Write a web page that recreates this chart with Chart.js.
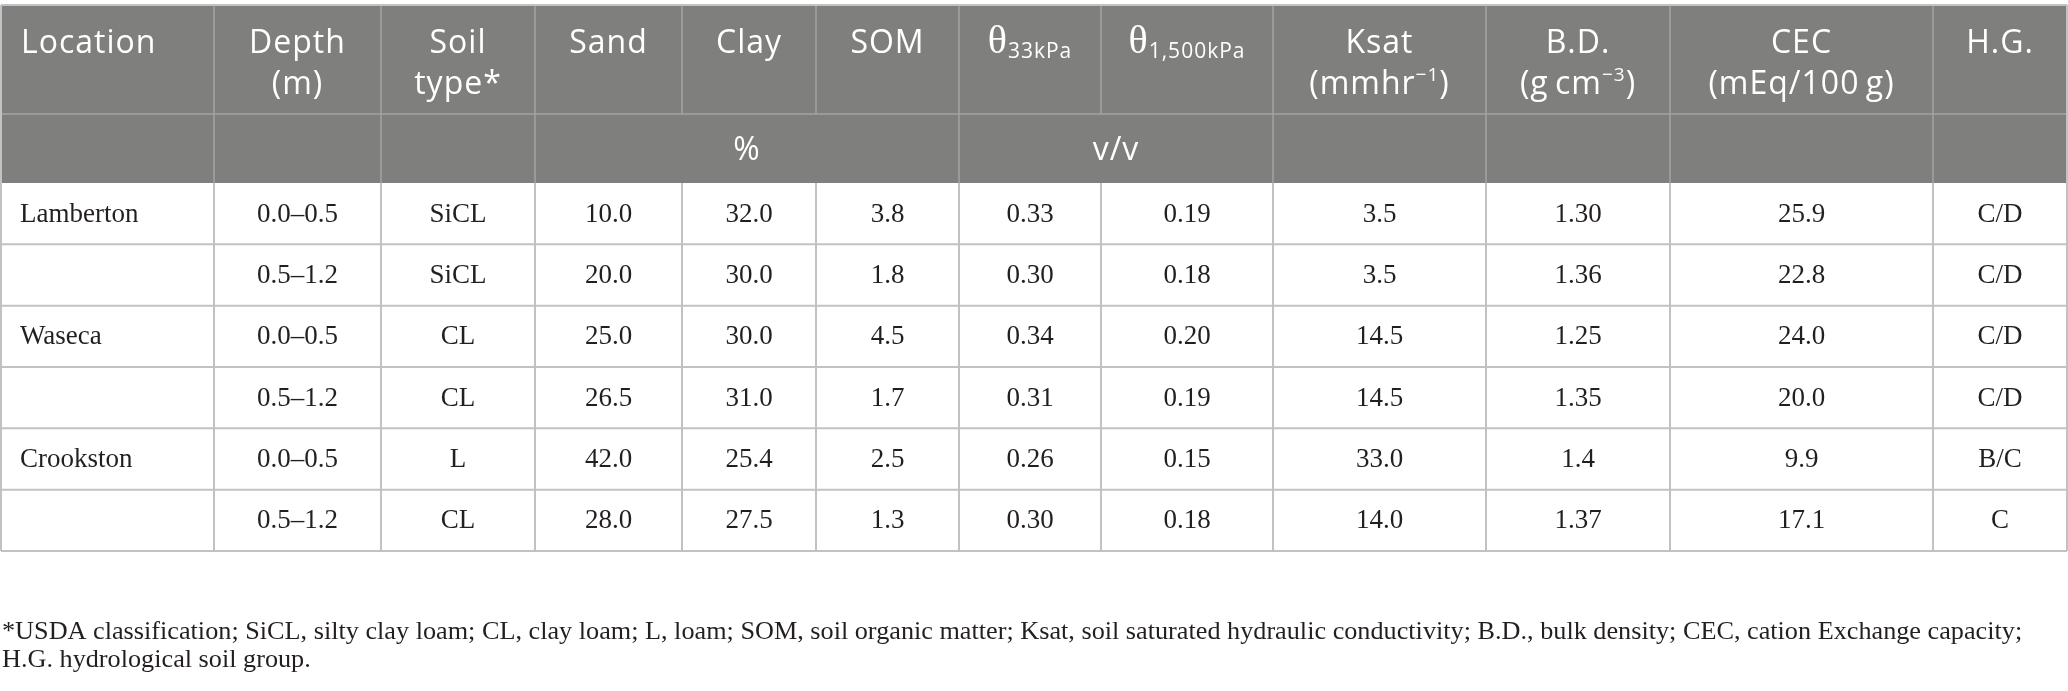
<!DOCTYPE html>
<html>
<head>
<meta charset="utf-8">
<script src="https://cdn.jsdelivr.net/npm/chart.js@4"></script>
<style>
  html, body { margin: 0; padding: 0; background: #fff; }
  #wrap { width: 2068px; height: 691px; }
</style>
</head>
<body>
<div id="wrap"><canvas id="js-soil-table" width="2068" height="691"></canvas></div>
<script>
// Table data
const locations = ['Lamberton', '', 'Waseca', '', 'Crookston', ''];
const depths = ['0.0–0.5', '0.5–1.2', '0.0–0.5', '0.5–1.2', '0.0–0.5', '0.5–1.2'];
const soilTypes = ['SiCL', 'SiCL', 'CL', 'CL', 'L', 'CL'];
const sand = [10.0, 20.0, 25.0, 26.5, 42.0, 28.0];
const clay = [32.0, 30.0, 30.0, 31.0, 25.4, 27.5];
const som = [3.8, 1.8, 4.5, 1.7, 2.5, 1.3];
const theta33 = [0.33, 0.30, 0.34, 0.31, 0.26, 0.30];
const theta1500 = [0.19, 0.18, 0.20, 0.19, 0.15, 0.18];
const ksat = [3.5, 3.5, 14.5, 14.5, 33.0, 14.0];
const bulkDensity = ['1.30', '1.36', '1.25', '1.35', '1.4', '1.37'];
const cec = [25.9, 22.8, 24.0, 20.0, 9.9, 17.1];
const hydroGroup = ['C/D', 'C/D', 'C/D', 'C/D', 'B/C', 'C'];

// Header labels (segments: n = normal, sup, sub, theta)
const seg = (t, k) => ({t: t, k: k || 'n'});
const headerLabels = [
  [[seg('Location')]],
  [[seg('Depth')], [seg('(m)')]],
  [[seg('Soil')], [seg('type*')]],
  [[seg('Sand')]],
  [[seg('Clay')]],
  [[seg('SOM')]],
  [[seg('θ', 'theta'), seg('33kPa', 'sub')]],
  [[seg('θ', 'theta'), seg('1,500kPa', 'sub')]],
  [[seg('Ksat')], [seg('(mmhr'), seg('−1', 'sup'), seg(')')]],
  [[seg('B.D.')], [seg('(g\u2009cm'), seg('−3', 'sup'), seg(')')]],
  [[seg('CEC')], [seg('(mEq/100\u2009g)')]],
  [[seg('H.G.')]]
];
// Unit row, spanning column indexes
const unitLabels = ['%', 'v/v'];
const unitSpans = [[3, 5], [6, 7]];

const footnoteLines = [
  '*USDA classification; SiCL, silty clay loam; CL, clay loam; L, loam; SOM, soil organic matter; Ksat, soil saturated hydraulic conductivity; B.D., bulk density; CEC, cation Exchange capacity;',
  'H.G. hydrological soil group.'
];

// Layout (in scale units = pixels of the page)
const W = 2068, H = 691;
const colEdges = [1, 214, 381, 535, 682, 816, 959, 1101, 1273, 1486, 1670, 1933, 2067];
const headTop = 5, headMid = 114, headBottom = 183, tableBottom = 551;
const rowCount = depths.length;
const rowH = (tableBottom - headBottom) / rowCount;

const fmt = (arr, d) => arr.map(v => v.toFixed(d));
const columns = [
  locations, depths, soilTypes, fmt(sand, 1), fmt(clay, 1), fmt(som, 1),
  fmt(theta33, 2), fmt(theta1500, 2), fmt(ksat, 1), bulkDensity, fmt(cec, 1), hydroGroup
];

// One (invisible) point per cell, text drawn at the point
let cellPoints = [];
columns.forEach((col, c) => {
  col.forEach((txt, r) => {
    let x = c === 0 ? colEdges[0] + 19 : (colEdges[c] + colEdges[c + 1]) / 2;
    cellPoints.push({x: x, y: headBottom + rowH * (r + 0.5), text: txt, left: c === 0});
  });
});

const fonts = {
  n: {font: '32px "Open Sans"', dy: 0},
  sup: {font: '19px "Open Sans"', dy: -13},
  sub: {font: '21px "Open Sans"', dy: 5},
  theta: {font: '40px "Liberation Serif"', dy: 0}
};

function drawRich(ctx, segs, cx, y, left) {
  let total = 0;
  segs.forEach(s => { ctx.font = fonts[s.k].font; total += ctx.measureText(s.t).width; });
  let x = left ? cx : cx - total / 2;
  segs.forEach(s => {
    ctx.font = fonts[s.k].font;
    ctx.fillText(s.t, x, y + fonts[s.k].dy);
    x += ctx.measureText(s.t).width;
  });
}

const tablePlugin = {
  id: 'tablePlugin',
  beforeDatasetsDraw(chart) {
    const ctx = chart.ctx;
    const xs = chart.scales.x, ys = chart.scales.y;
    const px = v => xs.getPixelForValue(v);
    const py = v => ys.getPixelForValue(v);
    const L = px(colEdges[0]), R = px(colEdges[colEdges.length - 1]);

    ctx.save();
    // header background
    ctx.fillStyle = '#7f807e';
    ctx.fillRect(L, py(headTop), R - L, py(headBottom) - py(headTop));

    // header grid
    ctx.strokeStyle = '#a3a4a2';
    ctx.lineWidth = 1.5;
    ctx.beginPath();
    ctx.moveTo(L, py(headMid)); ctx.lineTo(R, py(headMid));
    colEdges.slice(1, -1).forEach((e, i) => {
      const c = i + 1;
      ctx.moveTo(px(e), py(headTop)); ctx.lineTo(px(e), py(headMid));
      const inside = unitSpans.some(s => c > s[0] && c <= s[1]);
      if (!inside) { ctx.moveTo(px(e), py(headMid)); ctx.lineTo(px(e), py(headBottom)); }
    });
    ctx.stroke();

    // body grid
    ctx.strokeStyle = '#c2c2c2';
    ctx.lineWidth = 2;
    ctx.beginPath();
    ctx.moveTo(L, py(headTop)); ctx.lineTo(R, py(headTop));
    for (let r = 1; r <= rowCount; r++) {
      const y = py(headBottom + rowH * r);
      ctx.moveTo(L, y); ctx.lineTo(R, y);
    }
    colEdges.forEach(e => {
      ctx.moveTo(px(e), py(headBottom)); ctx.lineTo(px(e), py(tableBottom));
    });
    ctx.moveTo(L, py(headTop)); ctx.lineTo(L, py(headBottom));
    ctx.moveTo(R, py(headTop)); ctx.lineTo(R, py(headBottom));
    ctx.stroke();

    // header text
    ctx.fillStyle = '#ffffff';
    ctx.textBaseline = 'alphabetic';
    ctx.textAlign = 'left';
    ctx.letterSpacing = '1px';
    headerLabels.forEach((lines, c) => {
      const left = c === 0;
      const cx = left ? px(colEdges[0] + 20) : px((colEdges[c] + colEdges[c + 1]) / 2);
      lines.forEach((segs, li) => drawRich(ctx, segs, cx, py(53 + li * 41), left));
    });
    unitLabels.forEach((u, i) => {
      const s = unitSpans[i];
      const cx = px((colEdges[s[0]] + colEdges[s[1] + 1]) / 2);
      drawRich(ctx, [seg(u)], cx, py(160), false);
    });
    ctx.letterSpacing = '0px';

    // footnote
    ctx.fillStyle = '#231f20';
    ctx.font = '23px "Liberation Serif"';
    const fit = 2020 / ctx.measureText(footnoteLines[0]).width;
    ctx.font = (23 * fit).toFixed(2) + 'px "Liberation Serif"';
    footnoteLines.forEach((t, i) => ctx.fillText(t, px(2), py(639 + i * 28)));
    ctx.restore();
  },
  afterDatasetsDraw(chart) {
    const ctx = chart.ctx;
    const meta = chart.getDatasetMeta(0);
    ctx.save();
    ctx.fillStyle = '#231f20';
    ctx.font = '27px "Liberation Serif"';
    ctx.textBaseline = 'middle';
    meta.data.forEach((pt, i) => {
      const cell = cellPoints[i];
      ctx.textAlign = cell.left ? 'left' : 'center';
      ctx.fillText(cell.text, pt.x, pt.y + 1);
    });
    ctx.restore();
  }
};

new Chart(document.getElementById('js-soil-table'), {
  type: 'scatter',
  data: {
    datasets: [{
      label: 'cells',
      data: cellPoints,
      pointRadius: 0,
      pointHoverRadius: 0
    }]
  },
  options: {
    responsive: false,
    devicePixelRatio: 1,
    animation: false,
    layout: {padding: 0},
    events: [],
    scales: {
      x: {type: 'linear', min: 0, max: W, display: false},
      y: {type: 'linear', min: 0, max: H, reverse: true, display: false}
    },
    plugins: {legend: {display: false}, tooltip: {enabled: false}}
  },
  plugins: [tablePlugin]
});
</script>
</body>
</html>
